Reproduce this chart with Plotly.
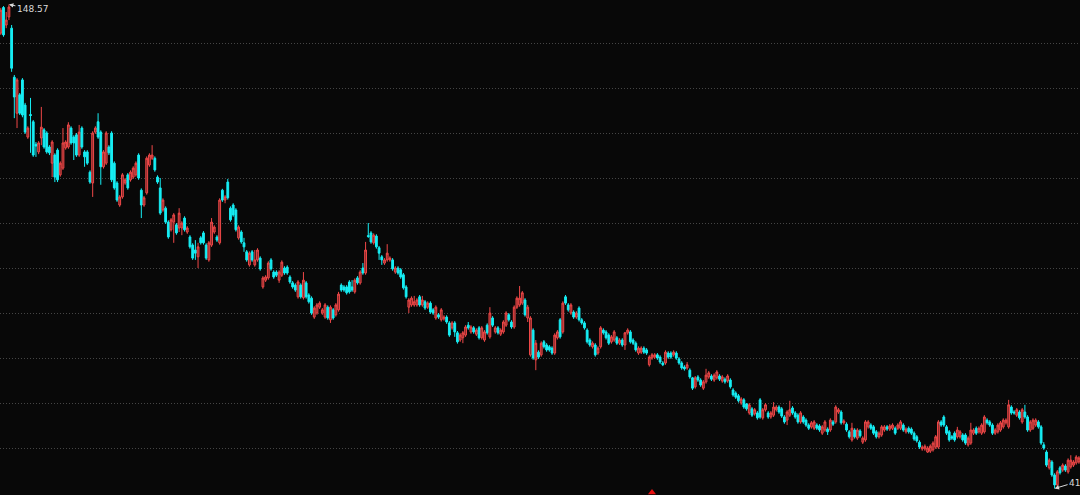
import plotly.graph_objects as go

# ---- data (daily candles, oldest first) ----
open_ = [
    142.2, 147.9, 144.0, 145.8, 143.3, 132.4, 124.4, 128.5, 131.8, 126.2,
    119.1, 124.1, 122.5, 117.5, 115.8, 118.9, 120.7, 120.0, 116.9, 113.3,
    115.1, 116.2, 110.7, 112.2, 116.7, 116.9, 121.1, 119.1, 119.6, 115.1,
    121.1, 115.8, 115.8, 111.3, 108.9, 120.2, 122.5, 120.2, 112.5, 113.3,
    116.9, 120.0, 113.3, 108.9, 104.0, 105.8, 108.9, 110.7, 109.6, 110.2,
    110.7, 115.1, 107.3, 104.0, 106.7, 112.9, 114.4, 114.4, 110.2, 107.8,
    102.9, 103.3, 100.2, 98.5, 100.2, 99.6,
    98.9, 98.9, 101.1, 98.0,
    96.9, 95.1, 94.0, 92.5, 96.7, 97.8, 95.1, 91.8, 95.1, 98.0,
    96.9, 95.6, 107.3, 105.1, 109.1, 103.3, 104.0, 102.9, 96.7, 98.0,
    95.6, 93.6, 90.7, 93.6, 90.7, 91.8, 92.2, 85.8, 87.3, 87.8,
    91.8, 89.1, 89.1, 87.3, 88.4, 90.0, 90.2, 88.0, 86.7, 86.2,
    83.6, 86.2, 83.4, 86.7, 84.0, 83.3, 79.1, 80.0, 81.3, 80.0,
    79.1, 81.3, 78.5, 80.7, 79.6, 80.7, 86.2, 85.8, 85.8,
    86.9, 85.8, 84.7, 87.8, 86.7, 90.0, 88.9, 97.2, 97.8, 95.6,
    97.1, 94.5, 92.5, 91.1, 91.8, 91.8, 91.8, 89.1, 90.0, 89.6,
    88.5, 85.8, 81.3, 81.8, 81.8, 81.8, 83.6, 81.8, 82.5, 81.3,
    82.2, 80.7, 78.9, 79.6, 78.5, 78.7, 79.1, 77.8, 76.7, 77.8,
    75.6, 74.0, 74.5, 75.1, 77.3, 75.8, 76.7, 75.3, 76.7, 74.5,
    74.0, 77.3, 74.7, 78.9, 75.8, 76.7, 75.3, 75.8, 77.3, 79.6,
    78.0, 76.9, 81.3, 81.8, 82.2, 82.9, 78.9,
    70.7, 76.2, 69.6, 71.3, 70.7, 73.6, 72.9, 72.5, 72.2, 71.1,
    74.5, 78.5, 75.8, 83.6, 81.8, 80.0, 80.2, 79.1, 81.1, 78.5,
    77.8, 76.2, 74.0, 72.5, 72.9, 71.1, 72.5, 76.2, 75.8, 75.1,
    73.6, 74.0, 74.5, 73.3, 74.0, 72.9, 75.6, 75.8, 74.0, 73.3,
    71.1, 71.3, 72.2, 71.8, 68.5, 70.0, 70.2, 70.7, 70.2, 68.9,
    68.9, 71.1, 71.1, 70.7, 71.1, 69.8, 68.9, 68.0, 67.8, 67.3,
    65.6, 63.6, 65.8, 65.1, 63.3, 64.7, 65.8, 66.0, 65.1, 65.6,
    66.0, 64.9, 65.3, 64.9, 65.1, 62.9, 62.2, 61.6, 60.0, 60.7,
    59.8, 57.8, 58.7, 57.6, 57.8, 60.7, 56.7, 58.5, 57.8, 56.9,
    57.3, 58.5, 59.1, 58.7, 56.9, 56.2, 57.3, 58.9, 57.8, 57.3,
    55.8, 56.9, 56.2, 55.1, 54.7, 54.4, 55.1, 54.9, 53.3, 54.0,
    54.2, 54.0, 55.8, 55.8, 58.0, 58.0, 55.6, 55.3, 53.6, 51.8,
    54.0, 52.2, 53.8, 51.3, 51.8, 54.7, 55.1, 54.7, 53.6, 52.5,
    52.9, 54.0, 54.7, 54.2, 54.4, 54.4, 54.4, 54.4, 55.1, 53.6, 54.4,
    54.2, 53.3, 52.5, 51.3, 49.8, 49.8, 49.1, 49.3, 49.6, 50.2,
    50.2, 55.8, 56.9, 54.7, 53.6, 52.5, 53.3, 52.5, 52.5, 52.9,
    52.9, 50.7, 51.1, 53.3, 54.4, 53.6, 53.3, 53.6, 56.2, 55.8,
    55.1, 53.3, 53.6, 54.0, 54.7, 55.6, 54.7, 59.1, 58.0, 57.3,
    58.0, 55.8, 58.0, 56.9, 54.0, 54.4, 55.1, 55.8, 54.7, 50.7,
    49.1, 45.6, 46.9, 44.0, 41.8, 45.6, 45.1, 46.0, 44.7, 45.8, 46.2, 46.7, 46.9,
]

high = [
    147.8, 148.2, 146.9, 148.57, 144.0, 132.9, 132.2, 128.9, 132.2, 126.7,
    121.5, 127.8, 122.9, 118.0, 118.2, 125.8, 121.1, 120.4, 117.3, 118.4,
    115.5, 116.6, 113.7, 121.1, 118.4, 122.4, 121.5, 119.5, 120.0, 121.8,
    121.5, 116.2, 116.2, 111.7, 120.4, 121.5, 124.4, 120.6, 116.2, 120.4,
    117.3, 120.4, 113.7, 109.3, 106.2, 111.1, 110.0, 111.1, 111.7, 112.6,
    113.7, 115.5, 107.7, 106.0, 114.8, 115.5, 117.3, 114.8, 110.6, 110.0,
    105.5, 103.7, 100.6, 101.1, 102.2, 100.0,
    103.3, 100.4, 101.5, 99.3,
    97.3, 95.5, 96.2, 95.6, 97.1, 98.2, 95.5, 96.0, 101.1, 99.5,
    97.3, 105.5, 107.6, 106.2, 109.8, 103.7, 104.4, 103.3, 99.5, 98.4,
    96.7, 94.0, 93.7, 94.0, 94.0, 94.4, 92.6, 88.2, 88.4, 91.5,
    92.2, 89.5, 89.5, 89.5, 91.7, 90.4, 90.6, 88.4, 87.1, 86.6,
    87.3, 86.6, 89.1, 87.1, 84.4, 83.7, 81.5, 82.2, 82.6, 81.1,
    82.2, 81.7, 81.7, 81.1, 82.2, 84.7, 86.6, 86.2, 86.2,
    87.3, 87.3, 87.7, 88.2, 89.5, 91.1, 95.8, 100.0, 98.2, 97.7,
    97.5, 94.9, 92.9, 92.2, 95.3, 92.6, 92.2, 90.4, 90.4, 90.0,
    88.9, 86.2, 83.3, 83.7, 83.8, 83.3, 84.0, 83.8, 82.9, 82.6,
    82.6, 81.1, 81.7, 80.0, 81.1, 79.5, 79.5, 78.2, 78.2, 78.2,
    76.0, 75.5, 76.0, 77.3, 78.0, 77.3, 77.1, 76.6, 77.1, 77.1,
    76.2, 77.7, 81.3, 79.3, 77.1, 77.1, 76.6, 78.4, 80.4, 80.0,
    78.4, 81.7, 83.7, 86.0, 84.9, 83.3, 81.8,
    79.3, 76.6, 74.0, 71.7, 73.7, 74.0, 73.3, 72.9, 72.6, 75.5,
    76.2, 78.9, 82.6, 84.0, 82.2, 82.2, 80.6, 80.4, 81.5, 78.9,
    78.2, 76.6, 74.4, 73.7, 73.3, 72.6, 77.1, 76.6, 76.2, 75.5,
    75.1, 76.2, 74.9, 74.4, 74.4, 75.8, 76.6, 76.2, 74.4, 73.7,
    72.6, 72.6, 72.6, 72.2, 70.6, 71.1, 71.1, 71.1, 70.6, 69.3,
    71.7, 71.5, 71.5, 71.7, 71.5, 70.2, 69.3, 68.4, 69.1, 67.7,
    65.8, 66.0, 66.2, 65.5, 65.1, 67.6, 67.1, 66.4, 66.6, 67.3,
    66.4, 66.2, 65.7, 66.4, 65.5, 63.3, 62.6, 62.0, 61.3, 61.1,
    60.0, 60.0, 59.1, 58.9, 58.2, 61.1, 58.9, 60.0, 58.2, 58.2,
    60.2, 59.5, 59.5, 59.1, 57.3, 58.4, 60.5, 59.3, 58.2, 57.7,
    58.2, 57.3, 56.6, 55.5, 56.0, 56.2, 55.5, 55.3, 55.1, 56.2,
    54.6, 56.6, 56.2, 59.5, 58.9, 58.4, 56.4, 55.7, 54.0, 55.6,
    54.4, 54.4, 54.2, 52.6, 56.2, 56.2, 55.5, 55.1, 54.0, 53.7,
    55.1, 55.1, 55.1, 55.3, 55.5, 54.8, 55.5, 56.2, 55.5, 54.6, 54.8,
    54.6, 53.7, 52.9, 51.7, 50.6, 50.8, 50.4, 50.8, 51.5, 52.9,
    56.2, 56.2, 57.3, 55.1, 54.0, 52.9, 53.7, 54.7, 54.0, 53.3,
    53.3, 52.6, 55.6, 54.4, 54.8, 54.8, 55.5, 57.3, 56.6, 56.2,
    55.5, 54.4, 55.5, 56.0, 56.6, 56.6, 60.7, 59.5, 58.4, 58.9,
    58.4, 58.9, 59.6, 57.3, 56.2, 56.6, 56.6, 56.2, 55.1, 51.3,
    49.5, 47.7, 47.3, 44.4, 45.1, 46.0, 46.6, 46.4, 47.7, 48.4, 47.3, 48.4, 48.2,
]

low = [
    141.8, 141.4, 143.3, 145.1, 133.6, 123.3, 121.1, 124.0, 123.5, 119.8,
    118.7, 115.6, 114.7, 114.7, 115.3, 117.3, 116.5, 115.4, 115.1, 110.2,
    109.1, 109.1, 110.3, 111.8, 116.3, 116.5, 117.4, 114.0, 114.7, 114.7,
    116.5, 112.5, 112.9, 108.7, 105.8, 119.8, 118.7, 108.5, 112.1, 112.9,
    115.1, 109.1, 107.4, 104.7, 103.6, 105.4, 108.5, 107.4, 109.2, 109.8,
    110.3, 109.6, 101.1, 103.6, 106.3, 112.5, 114.0, 111.4, 108.7, 101.8,
    102.5, 99.8, 96.5, 98.1, 95.6, 97.4,
    98.0, 97.3, 98.1, 97.6,
    94.3, 91.8, 91.8, 90.0, 95.2, 95.2, 91.8, 91.4, 94.7, 97.6,
    95.8, 95.2, 104.7, 104.4, 105.2, 100.3, 101.4, 98.1, 96.3, 95.4,
    93.6, 91.4, 90.3, 91.4, 90.3, 91.4, 89.4, 85.4, 86.9, 87.4,
    89.4, 87.6, 88.0, 86.7, 88.0, 88.5, 88.5, 86.5, 85.4, 84.7,
    83.2, 83.2, 83.0, 83.2, 82.1, 79.6, 78.7, 79.6, 80.9, 79.6,
    78.7, 78.5, 77.8, 78.5, 79.2, 80.3, 84.7, 84.7, 84.1,
    84.3, 84.7, 84.3, 86.3, 86.3, 88.5, 88.5, 96.7, 95.4, 95.2,
    94.3, 91.8, 90.7, 90.7, 91.4, 91.4, 89.4, 88.7, 88.5, 87.6,
    85.2, 83.2, 80.0, 81.4, 81.4, 81.4, 81.4, 81.4, 80.7, 80.9,
    79.8, 79.6, 78.5, 78.7, 78.1, 78.3, 77.6, 74.7, 76.3, 74.7,
    73.2, 73.6, 73.3, 74.7, 76.3, 75.4, 75.4, 74.9, 74.1, 74.1,
    73.6, 75.2, 74.3, 76.9, 75.4, 75.2, 74.9, 75.4, 76.9, 78.1,
    76.5, 76.5, 80.9, 81.4, 81.8, 79.2, 78.0,
    70.3, 69.6, 67.3, 69.8, 70.3, 72.1, 71.4, 71.4, 70.7, 70.7,
    74.1, 74.3, 75.4, 81.8, 80.3, 79.6, 78.7, 78.7, 78.1, 77.4,
    76.3, 73.2, 72.5, 72.1, 70.3, 70.7, 72.1, 75.2, 74.1, 72.9,
    73.2, 73.6, 72.9, 72.9, 72.5, 71.8, 75.2, 73.2, 72.9, 71.4,
    70.7, 70.9, 70.9, 70.7, 68.1, 69.6, 69.8, 69.6, 68.7, 68.2,
    68.5, 69.8, 69.8, 70.3, 69.6, 68.5, 67.4, 67.2, 67.4, 65.4,
    62.9, 63.2, 64.7, 63.6, 62.9, 64.3, 65.4, 64.9, 64.7, 65.2,
    64.9, 64.5, 64.3, 64.5, 63.2, 61.4, 60.9, 60.1, 59.6, 58.7,
    58.3, 57.4, 56.9, 57.2, 56.3, 56.5, 56.3, 58.1, 56.5, 56.5,
    56.9, 58.1, 57.6, 56.7, 55.4, 55.1, 56.9, 57.4, 56.5, 55.4,
    55.4, 55.4, 54.7, 54.0, 54.3, 54.0, 54.0, 53.6, 52.9, 53.6,
    52.9, 53.6, 54.9, 55.4, 57.6, 55.2, 55.2, 53.6, 52.1, 51.4,
    52.1, 51.8, 52.3, 50.9, 51.4, 54.3, 54.0, 52.9, 52.1, 52.1,
    52.5, 53.6, 53.8, 53.8, 54.0, 52.9, 54.0, 54.0, 53.6, 53.2, 53.2,
    52.9, 51.6, 51.2, 49.8, 49.4, 49.4, 48.9, 48.9, 49.2, 49.8,
    49.8, 54.7, 54.7, 52.9, 51.4, 51.8, 51.4, 52.1, 52.1, 51.4,
    50.7, 50.3, 50.7, 52.9, 52.9, 53.2, 52.9, 53.2, 55.2, 54.7,
    52.9, 52.9, 53.2, 53.6, 54.3, 55.2, 54.3, 57.4, 57.4, 56.9,
    56.3, 55.4, 56.5, 53.6, 53.6, 54.0, 54.7, 54.3, 50.7, 49.6,
    45.8, 45.2, 43.6, 41.0, 41.4, 44.1, 44.7, 44.7, 44.3, 45.4, 45.8, 46.3, 46.5,
]

close = [
    147.3, 141.8, 145.1, 148.0, 134.4, 128.0, 131.8, 124.4, 124.0, 120.2,
    121.1, 123.9, 115.1, 117.1, 117.8, 121.3, 116.9, 115.8, 115.6, 118.0,
    110.2, 109.6, 113.3, 117.8, 118.0, 121.8, 117.8, 117.8, 115.1, 120.2,
    116.9, 114.7, 113.3, 109.1, 120.0, 121.1, 119.1, 112.5, 115.8, 120.0,
    115.6, 109.6, 107.8, 105.1, 105.8, 110.7, 109.6, 107.8, 111.3, 112.2,
    113.3, 110.0, 104.0, 105.6, 114.4, 115.1, 115.1, 111.8, 109.1, 102.2,
    105.1, 100.2, 96.9, 100.7, 101.8, 97.8,
    102.2, 100.0, 98.5, 98.9,
    94.7, 92.2, 93.3, 94.7, 95.6, 95.6, 92.2, 95.6, 100.2, 99.1,
    96.2, 105.1, 105.1, 105.8, 105.6, 100.7, 101.8, 98.5, 99.1, 95.8,
    94.7, 91.8, 93.3, 91.8, 91.8, 94.0, 89.8, 87.8, 88.0, 91.1,
    89.8, 88.0, 88.4, 89.1, 91.3, 88.9, 88.9, 86.9, 85.8, 85.1,
    86.9, 83.6, 87.3, 83.6, 82.5, 80.0, 81.1, 81.8, 82.2, 80.7,
    81.8, 78.9, 81.3, 78.9, 81.8, 84.2, 85.1, 85.1, 84.5,
    84.7, 85.1, 87.3, 86.7, 89.1, 88.9, 94.0, 97.0, 95.8, 97.3,
    94.7, 93.3, 91.8, 91.8, 93.3, 92.2, 89.8, 90.0, 88.9, 88.0,
    85.6, 83.6, 82.9, 83.3, 82.5, 82.9, 81.8, 82.9, 81.1, 82.2,
    80.2, 80.0, 81.3, 79.1, 80.7, 79.1, 78.0, 75.1, 77.8, 75.8,
    73.6, 75.1, 75.6, 76.9, 76.7, 76.9, 75.8, 76.2, 74.5, 76.7,
    75.8, 75.6, 80.0, 77.3, 76.7, 75.6, 76.2, 78.0, 80.0, 78.5,
    76.9, 81.3, 83.3, 83.3, 84.5, 79.6, 81.3,
    78.9, 70.0, 73.3, 70.2, 73.3, 72.5, 71.8, 71.8, 71.1, 75.1,
    75.8, 74.7, 82.2, 82.2, 80.7, 81.8, 79.1, 80.0, 78.5, 77.8,
    76.7, 73.6, 72.9, 73.3, 70.7, 72.2, 76.7, 75.6, 74.5, 73.3,
    74.7, 75.8, 73.3, 74.0, 72.9, 75.6, 76.2, 73.6, 73.3, 71.8,
    72.2, 72.2, 71.3, 71.1, 70.2, 70.7, 70.7, 70.0, 69.1, 68.5,
    71.3, 70.2, 70.2, 71.3, 70.0, 68.9, 67.8, 67.6, 68.5, 65.8,
    63.3, 65.6, 65.1, 64.0, 64.7, 66.2, 66.7, 65.3, 66.2, 66.9,
    65.3, 65.8, 64.7, 66.0, 63.6, 61.8, 61.3, 60.5, 60.9, 59.1,
    58.7, 59.6, 57.3, 58.5, 56.7, 56.9, 58.5, 59.6, 56.9, 57.8,
    59.1, 59.1, 58.0, 57.1, 55.8, 58.0, 58.5, 57.8, 56.9, 55.8,
    57.8, 55.8, 55.1, 54.4, 55.6, 55.8, 54.4, 54.0, 54.7, 55.8,
    53.6, 56.2, 55.3, 59.1, 58.5, 55.6, 56.0, 54.0, 52.5, 54.4,
    52.5, 54.0, 52.7, 52.2, 55.8, 55.8, 54.4, 53.3, 52.5, 53.3,
    54.7, 54.7, 54.2, 54.9, 55.1, 53.3, 55.1, 55.8, 54.0, 54.2, 53.6,
    53.3, 52.0, 51.6, 50.2, 50.2, 50.4, 50.0, 50.4, 51.1, 52.5,
    55.8, 55.1, 55.1, 53.3, 51.8, 52.2, 51.8, 54.0, 53.6, 51.8,
    51.1, 52.2, 54.0, 54.0, 53.3, 54.4, 55.1, 56.9, 55.6, 55.1,
    53.3, 54.0, 55.1, 55.6, 56.2, 56.2, 59.6, 57.8, 57.8, 58.5,
    56.7, 58.5, 56.9, 54.0, 55.8, 56.2, 56.2, 54.7, 51.1, 50.0,
    46.2, 47.3, 44.0, 41.8, 44.7, 44.5, 46.2, 45.1, 47.3, 47.3, 46.9, 48.0, 47.8,
]

grid_levels = [50, 60, 70, 80, 90, 100, 110, 120, 130, 140]
high_label = "148.57"
low_label = "41"
event_index = [241]
event_price = [40.1]

n = min(len(open_), len(high), len(low), len(close))
days = list(range(n))
i_max = max(range(n), key=lambda i: high[i])
i_min = min(range(n), key=lambda i: low[i])

fig = go.Figure()
fig.add_trace(go.Candlestick(
    x=days, open=open_[:n], high=high[:n], low=low[:n], close=close[:n],
    increasing=dict(line=dict(color="#f04848", width=1), fillcolor="#7a2626"),
    decreasing=dict(line=dict(color="#16eef4", width=1), fillcolor="#16eef4"),
    whiskerwidth=0, showlegend=False, hoverinfo="skip",
))
fig.add_trace(go.Scatter(
    x=event_index, y=event_price, mode="markers",
    marker=dict(symbol="triangle-up", size=7, color="#e81010"),
    showlegend=False, hoverinfo="skip", cliponaxis=False,
))

lab_font = dict(family="DejaVu Sans", size=9, color="#d8d8d8")
fig.add_annotation(x=i_max, y=high[i_max], text=high_label, showarrow=True,
                   ax=24, ay=5, arrowhead=2, arrowsize=0.9, arrowwidth=1,
                   arrowcolor="#d8d8d8", font=lab_font)
fig.add_annotation(x=i_min, y=low[i_min], text=low_label, showarrow=True,
                   ax=20, ay=-6, arrowhead=2, arrowsize=0.9, arrowwidth=1,
                   arrowcolor="#d8d8d8", font=lab_font)

fig.update_layout(
    width=1080, height=495,
    margin=dict(l=0, r=0, t=0, b=0, pad=0),
    paper_bgcolor="#080808", plot_bgcolor="#080808",
    showlegend=False,
    boxgap=0.05,
    xaxis=dict(range=[-0.3, n - 0.6], visible=False, showgrid=False,
               rangeslider=dict(visible=False), fixedrange=True),
    yaxis=dict(range=[39.56, 149.56], tickvals=grid_levels, showticklabels=False,
               ticks="", showgrid=True, gridcolor="#454545", griddash="1px,2px",
               gridwidth=1, zeroline=False, showline=False, fixedrange=True),
)

fig.write_html("out.html", config={"displayModeBar": False},
               post_script="document.body.style.margin='0';document.body.style.overflow='hidden';")
